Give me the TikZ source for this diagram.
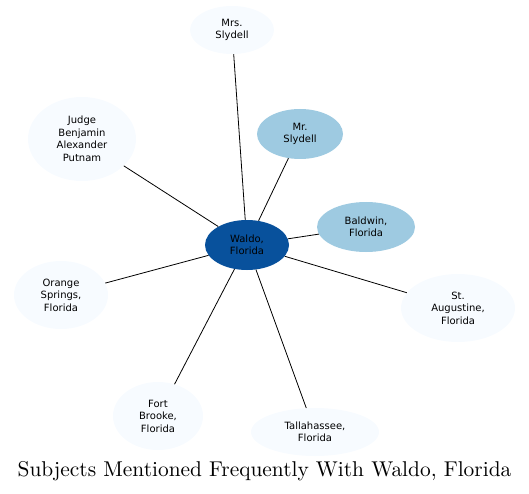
\documentclass[tikz,border=0pt]{standalone}
\usepackage{fontspec}
\usetikzlibrary{shapes.geometric}
\newfontfamily\nodefont{DejaVu Sans}
\newfontfamily\titlefont{lmroman10-regular}[Extension=.otf]
\definecolor{dark}{HTML}{08519C}
\definecolor{mid}{HTML}{9ECAE1}
\definecolor{pale}{HTML}{F7FBFF}
\begin{document}
\begin{tikzpicture}[x=1pt,y=-1pt,
  ent/.style={ellipse, inner sep=0pt, font=\nodefont\fontsize{10}{12.5}\selectfont, align=center, text=black},
  edge/.style={draw=black, line width=0.8pt}]
\useasboundingbox (0,0) rectangle (529,494);
\node[ent, fill=dark, minimum width=84, minimum height=50] (w) at (247,245) {Waldo,\\Florida};
\node[ent, fill=pale, minimum width=84, minimum height=48] (mrs) at (232,30) {Mrs.\\Slydell};
\node[ent, fill=pale, minimum width=108, minimum height=84] (j) at (82,139) {Judge\\Benjamin\\Alexander\\Putnam};
\node[ent, fill=mid, minimum width=86, minimum height=50] (mr) at (300,134) {Mr.\\Slydell};
\node[ent, fill=mid, minimum width=98, minimum height=50] (b) at (366,227) {Baldwin,\\Florida};
\node[ent, fill=pale, minimum width=94, minimum height=68] (o) at (61,295) {Orange\\Springs,\\Florida};
\node[ent, fill=pale, minimum width=114, minimum height=68] (s) at (458,308) {St.\\Augustine,\\Florida};
\node[ent, fill=pale, minimum width=90, minimum height=68] (f) at (158,416) {Fort\\Brooke,\\Florida};
\node[ent, fill=pale, minimum width=128, minimum height=48] (t) at (315,432) {Tallahassee,\\Florida};
\foreach \n in {mrs,j,mr,b,o,s,f,t} \draw[edge] (w) -- (\n);
\node[font=\titlefont\fontsize{21.4}{25}\selectfont] (title) at (264.5,471) {Subjects Mentioned Frequently With Waldo, Florida};
\end{tikzpicture}
\end{document}
